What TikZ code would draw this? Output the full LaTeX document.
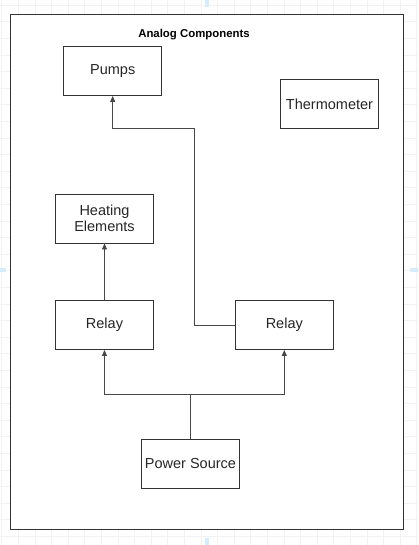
\documentclass[tikz,border=0pt]{standalone}
\usepackage{fontspec}
\setmainfont{Liberation Sans}
\usetikzlibrary{arrows.meta}
\definecolor{gridc}{HTML}{F2F2F2}
\definecolor{linec}{HTML}{333333}
\definecolor{markc}{HTML}{D4ECFC}
\tikzset{
  box/.style={draw=linec, line width=0.9pt, minimum width=98pt, minimum height=49pt, inner sep=1pt, align=center, font=\fontsize{14.5}{16.5}\selectfont, text=black!85},
  wire/.style={draw=linec!90, line width=0.9pt},
  arr/.style={wire, -{Triangle[length=6pt,width=5pt]}},
}
\begin{document}
\begin{tikzpicture}[x=1pt,y=-1pt]
\useasboundingbox (0,0) rectangle (418,545);
\fill[white] (0,0) rectangle (418,545);
% faint grid
\foreach \i in {0,...,26} {
  \draw[gridc, line width=0.5pt] (1.7+16.6*\i,0) -- (1.7+16.6*\i,545);
}
\foreach \j in {0,...,33} {
  \draw[gridc, line width=0.5pt] (0,5+16.6*\j) -- (418,5+16.6*\j);
}
% guide marks
\fill[markc] (205,0) rectangle (209,7);
\fill[markc] (205,538) rectangle (209,545);
\fill[markc] (0,268) rectangle (6,272);
\fill[markc] (410,268) rectangle (418,272);
% outer frame
\draw[fill=white, draw=linec, line width=0.9pt] (10.3,14) rectangle (403.3,529.3);
\node[font=\bfseries\fontsize{11.4}{13}\selectfont] (title) at (194,35) {Analog Components};
% boxes
\node[box] (pumps) at (112.7,71) {Pumps};
\node[box] (thermo) at (329.5,104) {Thermometer};
\node[box] (heat) at (104.5,218.5) {Heating\\Elements};
\node[box] (relay1) at (104.5,325) {Relay};
\node[box] (relay2) at (284.3,325) {Relay};
\node[box] (power) at (190.5,464) {Power Source};
% connectors
\coordinate (j) at (190.5,394.3);
\draw[wire] (power.north) -- (j);
\draw[arr] (j) -| (relay1.south);
\draw[arr] (j) -| (relay2.south);
\draw[arr] (relay1.north) -- (heat.south);
\coordinate (b1) at (194.3,325);
\coordinate (b2) at (194.3,128);
\draw[arr] (relay2.west) -- (b1) -- (b2) -| (pumps.south);
\end{tikzpicture}
\end{document}
